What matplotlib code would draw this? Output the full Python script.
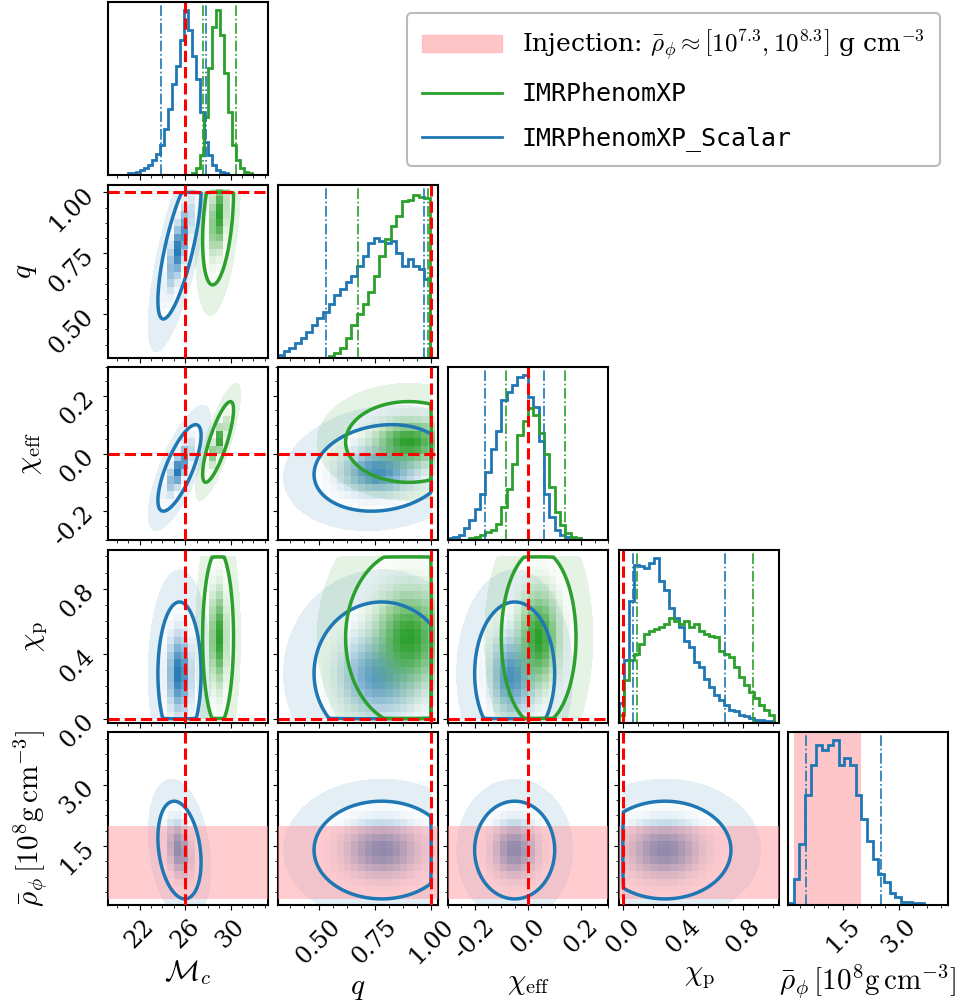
import numpy as np
import matplotlib
matplotlib.use("Agg")
import matplotlib.pyplot as plt
from matplotlib.colors import LinearSegmentedColormap
from matplotlib.lines import Line2D
from matplotlib.patches import Patch
from matplotlib.ticker import AutoMinorLocator

plt.rcParams['mathtext.fontset'] = 'cm'
plt.rcParams['font.family'] = ['DejaVu Serif']
plt.rcParams['axes.formatter.use_mathtext'] = True

BLUE = '#1f77b4'
GREEN = '#2ca02c'

# ---------------- data ----------------
names = ['Mc', 'q', 'chi_eff', 'chi_p', 'rho']
labels = [r'$\mathcal{M}_c$', r'$q$', r'$\chi_{\rm eff}$', r'$\chi_{\rm p}$',
          r'$\bar{\rho}_\phi\,[10^8{\rm g\,cm^{-3}}]$']
ranges = [(19.2, 33.3), (0.32, 1.03), (-0.3, 0.3), (-0.025, 1.04), (0.05, 4.3)]
ticks = [[22, 26, 30], [0.50, 0.75, 1.00], [-0.2, 0.0, 0.2], [0.0, 0.4, 0.8], [1.5, 3.0]]
tickfmt = ['%d', '%.2f', '%.1f', '%.1f', '%.1f']
injection = [26.0, 1.0, 0.0, 0.0, None]
rho_band = (0.2, 2.0)
bounds = [(None, None), (None, 1.0), (None, None), (0.0, 1.0), (0.0, None)]

# 1D histograms (bin edges + relative heights)
edges_Mc = np.linspace(19.2, 33.3, 41)
blue_Mc = [0, 0, 0, 0, 0, 1, 1, 2, 3, 4, 6, 9, 13, 18, 28, 40, 55, 66, 82, 100,
           88, 72, 58, 38, 20, 12, 6, 3, 2, 1, 0, 0, 0, 0, 0, 0, 0, 0, 0, 0]
green_Mc = [0, 0, 0, 0, 0, 0, 0, 0, 0, 0, 0, 0, 0, 0, 0, 0, 0, 0, 0, 0,
            0, 1, 4, 12, 35, 65, 90, 100, 85, 62, 38, 18, 9, 4, 2, 1, 0, 0, 0, 0]
edges_q = np.linspace(0.32, 1.02, 29)
blue_q = [2, 4, 6, 9, 12, 16, 20, 24, 28, 33, 38, 42, 46, 50, 56, 62, 70, 73, 71, 70,
          71, 64, 56, 60, 56, 54, 48, 0]
green_q = [0, 0, 0, 0, 0, 0, 0, 0, 0, 1, 3, 6, 12, 20, 27, 33, 40, 50, 62, 72,
           80, 86, 95, 96, 99, 98, 97, 0]
edges_ce = np.linspace(-0.3, 0.3, 31)
blue_ce = [1, 2, 3, 7, 12, 19, 28, 41, 55, 66, 85, 90, 94, 99, 100, 87, 81, 60, 28, 14,
           6, 3, 2, 1, 0, 0, 0, 0, 0, 0]
green_ce = [0, 0, 0, 0, 1, 2, 3, 5, 6, 10, 20, 31, 46, 64, 72, 80, 76, 65, 52, 32,
            17, 9, 4, 2, 1, 0, 0, 0, 0, 0]
edges_cp = np.linspace(-0.025, 1.04, 33)
blue_cp = [12, 38, 74, 96, 95, 94, 97, 100, 86, 81, 70, 64, 58, 50, 46, 37, 34, 27, 22, 17,
           14, 11, 8, 7, 5, 4, 3, 2, 2, 1, 1, 0]
green_cp = [5, 26, 38, 42, 48, 54, 56, 57, 58, 60, 64, 62, 60, 62, 58, 60, 56, 54, 53, 52,
            44, 42, 40, 34, 28, 23, 19, 15, 11, 8, 5, 0]
edges_rho = np.linspace(0.05, 4.25, 29)
blue_rho = [1, 16, 37, 67, 85, 97, 94, 97, 100, 85, 89, 85, 67, 52, 39, 28, 19, 14, 7, 5,
            2, 2, 1, 1, 0, 0, 0, 0]

hist_edges = [edges_Mc, edges_q, edges_ce, edges_cp, edges_rho]
hist_blue = [blue_Mc, blue_q, blue_ce, blue_cp, blue_rho]
hist_green = [green_Mc, green_q, green_ce, green_cp, None]

# 5% / 95% credible bounds (dash-dot lines)
quant_blue = [(23.9, 27.8), (0.535, 0.97), (-0.162, 0.059), (0.07, 0.68), (0.54, 2.51)]
quant_green = [(27.6, 30.5), (0.675, 0.985), (-0.082, 0.139), (0.095, 0.87), None]

# 2D shape summaries (mean, std per parameter; pairwise correlations)
mean_blue = [25.5, 0.78, -0.05, 0.28, 1.4]
std_blue = [0.95, 0.15, 0.075, 0.22, 0.6]
mean_green = [28.9, 0.90, 0.04, 0.50, None]
std_green = [0.68, 0.14, 0.07, 0.27, None]
corr_blue = {(0, 1): 0.75, (0, 2): 0.75, (1, 2): 0.15, (0, 4): -0.25}
corr_green = {(0, 1): 0.35, (0, 2): 0.8, (1, 2): 0.0}

# ---------------- layout ----------------
W, H = 956, 1000
fig = plt.figure(figsize=(W / 100, H / 100), dpi=100)
lefts = [108, 278, 448, 619, 788]
tops = [2, 185, 367, 550, 732]
aw, ah = 160, 173

NSIG = 2.0
lev = np.exp(-0.5 * NSIG ** 2)


def make_ax(r, c):
    return fig.add_axes([lefts[c] / W, 1 - (tops[r] + ah) / H, aw / W, ah / H])


def cmap_for(color):
    return LinearSegmentedColormap.from_list('m', [(1, 1, 1, 0), color])


def density(i, j, mean, std, corr, n):
    x = np.linspace(*ranges[j], n)
    y = np.linspace(*ranges[i], n)
    X, Y = np.meshgrid(x, y)
    r = corr.get((j, i), corr.get((i, j), 0.0))
    zx = (X - mean[j]) / std[j]
    zy = (Y - mean[i]) / std[i]
    Z = np.exp(-0.5 * (zx ** 2 - 2 * r * zx * zy + zy ** 2) / (1 - r ** 2))
    for arr, (lo, hi) in ((X, bounds[j]), (Y, bounds[i])):
        if lo is not None:
            Z[arr < lo] = 0
        if hi is not None:
            Z[arr > hi + 1e-9] = 0
    return x, y, Z


def draw2d(ax, i, j, mean, std, corr, color):
    x, y, Z = density(i, j, mean, std, corr, 24)
    xf, yf, Zf = density(i, j, mean, std, corr, 220)
    ax.contourf(xf, yf, Zf, levels=[0.015, lev], colors=[color], alpha=0.12)
    Zin = np.where(Z >= lev * 0.8, Z, np.nan)
    ax.pcolormesh(x, y, Zin, cmap=cmap_for(color), vmin=lev * 0.3, vmax=1.0, shading='nearest')
    ax.contour(xf, yf, Zf, levels=[lev], colors=[color], linewidths=2.5, zorder=5)


def style_ticks(ax, r, c, diag):
    ax.set_xlim(*ranges[c])
    ax.set_xticks(ticks[c])
    ax.xaxis.set_minor_locator(AutoMinorLocator(4))
    if r == 4:
        ax.set_xticklabels([tickfmt[c] % t for t in ticks[c]], rotation=45, fontsize=17)
        ax.set_xlabel(labels[c], fontsize=21)
    else:
        ax.set_xticklabels([])
    if diag:
        ax.set_yticks([])
    else:
        ax.set_ylim(*ranges[r])
        ax.set_yticks(ticks[r])
        ax.yaxis.set_minor_locator(AutoMinorLocator(4))
        if c == 0:
            ax.set_yticklabels([tickfmt[r] % t for t in ticks[r]], rotation=45, fontsize=17)
            ax.set_ylabel(labels[r], fontsize=21)
        else:
            ax.set_yticklabels([])
    for s in ax.spines.values():
        s.set_linewidth(1.5)


for r in range(5):
    for c in range(r + 1):
        ax = make_ax(r, c)
        if r == c:
            e = hist_edges[c]
            ax.stairs(hist_blue[c], e, color=BLUE, lw=2)
            if hist_green[c] is not None:
                ax.stairs(hist_green[c], e, color=GREEN, lw=2)
            for qv in quant_blue[c]:
                ax.axvline(qv, color=BLUE, ls='-.', lw=1.2)
            if quant_green[c] is not None:
                for qv in quant_green[c]:
                    ax.axvline(qv, color=GREEN, ls='-.', lw=1.2)
            if injection[c] is not None:
                ax.axvline(injection[c], color='red', ls='--', lw=2.2)
            if c == 4:
                ax.axvspan(*rho_band, color='#ffb3b8', alpha=0.75, lw=0, zorder=0)
            ax.set_ylim(0, 105)
            style_ticks(ax, r, c, True)
        else:
            draw2d(ax, r, c, mean_blue, std_blue, corr_blue, BLUE)
            if mean_green[r] is not None:
                draw2d(ax, r, c, mean_green, std_green, corr_green, GREEN)
            if injection[c] is not None:
                ax.axvline(injection[c], color='red', ls='--', lw=2.2, zorder=6)
            if injection[r] is not None:
                ax.axhline(injection[r], color='red', ls='--', lw=2.2, zorder=6)
            if r == 4:
                ax.axhspan(*rho_band, color='#ff9aa2', alpha=0.5, lw=0, zorder=4)
            style_ticks(ax, r, c, False)

handles = [Patch(color='#ffb3b8', alpha=0.75),
           Line2D([], [], color=GREEN, lw=2),
           Line2D([], [], color=BLUE, lw=2)]
leg = fig.legend(handles,
                 [r'Injection: $\bar{\rho}_\phi \approx \left[10^{7.3}, 10^{8.3}\right]$ g cm$^{-3}$',
                  'IMRPhenomXP', 'IMRPhenomXP_Scalar'],
                 loc='upper right', bbox_to_anchor=(952 / W, 1 - 0 / H), fontsize=18,
                 handlelength=3.2, borderpad=0.6, labelspacing=0.8, framealpha=1,
                 edgecolor='#bbbbbb', fancybox=True)
for t in leg.get_texts()[1:]:
    t.set_family(['DejaVu Sans Mono'])
leg.get_frame().set_linewidth(1.5)

fig.savefig('out.png', dpi=100)
